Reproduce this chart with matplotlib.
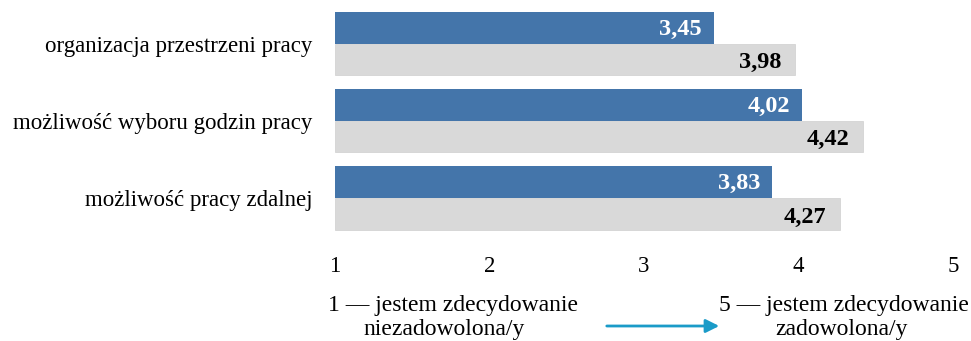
import matplotlib
matplotlib.use("Agg")
import matplotlib.pyplot as plt
import numpy as np

categories = ["organizacja przestrzeni pracy", "możliwość wyboru godzin pracy", "możliwość pracy zdalnej"]
series_blue = [3.45, 4.02, 3.83]
series_gray = [3.98, 4.42, 4.27]
xticks = [1, 2, 3, 4, 5]
left_line1 = "1 — jestem zdecydowanie"
left_line2 = "niezadowolona/y"
right_line1 = "5 — jestem zdecydowanie"
right_line2 = "zadowolona/y"

plt.rcParams['font.family'] = ['Liberation Serif', 'DejaVu Serif']

fig = plt.figure(figsize=(9.71, 3.41), dpi=100)
ax = fig.add_axes([0.345, 0.306, 0.6365, 0.6796])

y = np.arange(len(categories))
h = 0.41
base = 1
ax.barh(y - h/2, np.array(series_blue) - base, left=base, height=h, color='#4475aa', edgecolor='none')
ax.barh(y + h/2, np.array(series_gray) - base, left=base, height=h, color='#d9d9d9', edgecolor='#cfcfcf', linewidth=0.5)

def fmt(v):
    return f"{v:.2f}".replace('.', ',')

for yi, v in zip(y, series_blue):
    ax.text(v - 0.075, yi - h/2 + 0.02, fmt(v), ha='right', va='center', color='white', fontsize=17.5, fontweight='bold')
for yi, v in zip(y, series_gray):
    ax.text(v - 0.09, yi + h/2 + 0.04, fmt(v), ha='right', va='center', color='black', fontsize=17.5, fontweight='bold')

ax.set_xlim(1, 5)
ax.set_ylim(2.5, -0.5)
ax.set_xticks(xticks)
ax.set_xticklabels([str(t) for t in xticks], fontsize=16.5)
ax.set_yticks(y)
ax.set_yticklabels(categories, fontsize=16.5)
ax.tick_params(axis='both', length=0)
ax.tick_params(axis='x', pad=14)
ax.tick_params(axis='y', pad=16)
for s in ax.spines.values():
    s.set_visible(False)

fs = 17
fig.text(328/971, 1 - 311/341, left_line1, fontsize=fs, ha='left', va='baseline')
fig.text(363/971, 1 - 335/341, left_line2, fontsize=fs, ha='left', va='baseline')
fig.text(719/971, 1 - 311/341, right_line1, fontsize=fs, ha='left', va='baseline')
fig.text(775/971, 1 - 335/341, right_line2, fontsize=fs, ha='left', va='baseline')
ax.annotate("", xy=(722/971, 1 - 326/341), xytext=(604/971, 1 - 326/341),
            xycoords='figure fraction', textcoords='figure fraction',
            arrowprops=dict(arrowstyle='-|>', color='#1a9bc8', lw=2, mutation_scale=20))

fig.savefig("out.png", dpi=100)
